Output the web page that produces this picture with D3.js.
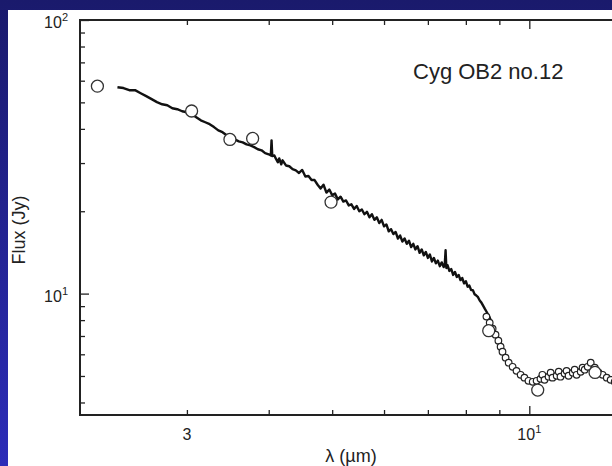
<!DOCTYPE html>
<html>
<head>
<meta charset="utf-8">
<script src="https://cdn.jsdelivr.net/npm/d3@7"></script>
<style>
  html, body { margin: 0; padding: 0; background: #1b1b6e; }
  svg { display: block; }
  text { font-family: "Liberation Sans", Arial, sans-serif; fill: #222; }
</style>
</head>
<body>
<div id="chart"></div>
<script>
// spectrum (solid line), wavelength in um, flux in Jy
const specWave = [
  2.35, 2.40, 2.45, 2.50, 2.55, 2.60, 2.65, 2.70, 2.75, 2.80,
  2.85, 2.90, 2.95, 3.00, 3.05, 3.10, 3.15, 3.20, 3.25, 3.30,
  3.35, 3.40, 3.45, 3.50, 3.55, 3.60, 3.65, 3.70, 3.75, 3.80,
  3.85, 3.90, 3.95, 4.00, 4.03, 4.04, 4.05, 4.08, 4.10, 4.13,
  4.15, 4.18, 4.20, 4.25, 4.30, 4.35, 4.40, 4.45, 4.50, 4.55,
  4.60, 4.65, 4.70, 4.75, 4.80, 4.85, 4.90, 4.95, 5.00, 5.05,
  5.10, 5.15, 5.20, 5.25, 5.30, 5.35, 5.40, 5.45, 5.50, 5.55,
  5.60, 5.65, 5.70, 5.75, 5.80, 5.85, 5.90, 5.95, 6.00, 6.05,
  6.10, 6.15, 6.20, 6.25, 6.30, 6.35, 6.40, 6.45, 6.50, 6.55,
  6.60, 6.65, 6.70, 6.75, 6.80, 6.85, 6.90, 6.95, 7.00, 7.05,
  7.10, 7.15, 7.20, 7.25, 7.30, 7.35, 7.40, 7.43, 7.45, 7.47,
  7.50, 7.55, 7.60, 7.65, 7.70, 7.75, 7.80, 7.85, 7.90, 7.95,
  8.00, 8.05, 8.10, 8.15, 8.20, 8.25, 8.30, 8.35, 8.40, 8.45,
  8.50, 8.55, 8.60, 8.65, 8.70, 8.75
];
const specFlux = [
  56.8, 56.4, 55.4, 55.4, 54.0, 52.7, 51.4, 50.1, 49.2, 48.8,
  47.6, 47.2, 46.4, 46.0, 45.3, 44.1, 43.0, 42.3, 41.6, 40.6,
  39.5, 38.9, 37.9, 37.0, 36.6, 36.0, 35.7, 35.1, 34.8, 34.3,
  33.7, 33.4, 32.6, 32.3, 32.0, 36.3, 31.8, 32.0, 31.2, 30.2,
  31.2, 29.7, 30.7, 29.4, 29.2, 28.5, 28.2, 27.6, 28.3, 26.8,
  26.9, 26.0, 26.0, 25.0, 24.2, 25.0, 23.4, 24.0, 22.9, 23.2,
  22.1, 22.6, 21.7, 21.9, 21.0, 21.2, 20.4, 20.9, 20.0, 20.3,
  19.5, 19.9, 19.0, 19.5, 18.6, 19.0, 18.1, 18.6, 17.6, 17.9,
  16.9, 17.2, 16.5, 16.8, 15.9, 16.3, 15.5, 15.9, 15.2, 15.6,
  14.8, 15.2, 14.5, 14.9, 14.1, 14.5, 13.8, 14.2, 13.5, 13.9,
  13.1, 13.5, 12.9, 13.2, 12.6, 13.0, 12.5, 12.9, 14.4, 12.4,
  12.7, 12.1, 12.3, 11.7, 12.0, 11.5, 11.7, 11.2, 11.4, 10.9,
  11.1, 10.6, 10.7, 10.3, 10.3, 9.95, 9.84, 9.70, 9.43, 9.27,
  9.04, 8.81, 8.6, 8.38, 8.17, 7.9
];

// small open circles (long-wavelength spectrum)
const isoWave = [
  8.60, 8.70, 8.79, 8.88, 8.97, 9.04, 9.10, 9.20, 9.30, 9.43,
  9.56, 9.70, 9.83, 9.97, 10.12, 10.26, 10.40, 10.47, 10.55, 10.70,
  10.78, 10.85, 11.01, 11.09, 11.16, 11.32, 11.40, 11.48, 11.65, 11.73,
  11.81, 11.98, 12.06, 12.15, 12.28, 12.41, 12.59, 12.76, 12.94, 13.13,
  13.31, 13.50
];
const isoFlux = [
  8.24, 7.83, 7.44, 7.08, 6.73, 6.40, 6.13, 5.83, 5.59, 5.40,
  5.22, 5.05, 4.93, 4.80, 4.76, 4.80, 4.88, 5.05, 4.84, 4.97,
  5.14, 4.93, 5.01, 5.18, 4.97, 5.10, 5.22, 5.01, 5.14, 5.27,
  5.05, 5.18, 5.36, 5.27, 5.40, 5.59, 5.36, 5.14, 5.05, 4.93,
  4.84, 4.76
];

// photometry (large open circles)
const photWave = [2.19, 3.05, 3.49, 3.78, 4.98, 8.67, 10.3, 12.6];
const photFlux = [57.3, 46.5, 36.6, 36.9, 21.6, 7.32, 4.44, 5.15];

// axis ticks
const xMinorTicks = [3, 4, 5, 6, 7, 8, 9];
const xMajorTicks = [10];
const yMinorTicks = [4, 5, 6, 7, 8, 9, 20, 30, 40, 50, 60, 70, 80, 90];
const yMajorTicks = [10, 100];
const xTickLabels = [{ v: 3, base: "3", exp: "" }, { v: 10, base: "10", exp: "1" }];
const yTickLabels = [{ v: 10, base: "10", exp: "1" }, { v: 100, base: "10", exp: "2" }];

function renderChart() {
    const width = 612;
    const height = 466;
    const plot = { left: 80, top: 20, right: 625, bottom: 415 };

    const svg = d3.select("#chart").append("svg")
        .attr("width", width)
        .attr("height", height);

    // blue slide background
    const grad = svg.append("defs").append("linearGradient")
        .attr("id", "bg").attr("x1", 0).attr("y1", 0).attr("x2", 0).attr("y2", 1);
    grad.append("stop").attr("offset", "0%").attr("stop-color", "#1a1a6c");
    grad.append("stop").attr("offset", "100%").attr("stop-color", "#2c2cb8");
    svg.append("rect").attr("width", width).attr("height", height).attr("fill", "url(#bg)");
    svg.append("rect").attr("x", 8).attr("y", 10)
        .attr("width", width - 8).attr("height", height - 10).attr("fill", "#fff");

    const x = d3.scaleLog().domain([2.06, 14]).range([plot.left, plot.right]);
    const y = d3.scaleLog().domain([3.6, 100]).range([plot.bottom, plot.top]);

    // inward ticks on all sides
    const tickGroups = [
        { axis: d3.axisBottom(x), ticks: xMinorTicks, size: -5, at: `translate(0,${plot.bottom})` },
        { axis: d3.axisBottom(x), ticks: xMajorTicks, size: -9, at: `translate(0,${plot.bottom})` },
        { axis: d3.axisTop(x), ticks: xMinorTicks, size: -5, at: `translate(0,${plot.top})` },
        { axis: d3.axisTop(x), ticks: xMajorTicks, size: -9, at: `translate(0,${plot.top})` },
        { axis: d3.axisLeft(y), ticks: yMinorTicks, size: -5, at: `translate(${plot.left},0)` },
        { axis: d3.axisLeft(y), ticks: yMajorTicks, size: -9, at: `translate(${plot.left},0)` }
    ];
    tickGroups.forEach(t => {
        const g = svg.append("g")
            .attr("transform", t.at)
            .call(t.axis.tickValues(t.ticks).tickSize(t.size).tickFormat(""));
        g.select(".domain").remove();
        g.selectAll("line").attr("stroke", "#222").attr("stroke-width", 1.3);
    });

    // frame
    svg.append("rect")
        .attr("x", plot.left).attr("y", plot.top)
        .attr("width", plot.right - plot.left).attr("height", plot.bottom - plot.top)
        .attr("fill", "none").attr("stroke", "#222").attr("stroke-width", 2);

    // tick labels
    xTickLabels.forEach(d => {
        const t = svg.append("text")
            .attr("x", x(d.v)).attr("y", plot.bottom + 25)
            .attr("text-anchor", "middle").attr("font-size", 16)
            .text(d.base);
        if (d.exp) t.append("tspan").attr("dy", -7).attr("font-size", 11).text(d.exp);
    });
    yTickLabels.forEach(d => {
        const t = svg.append("text")
            .attr("x", 68).attr("y", y(d.v) + 8)
            .attr("text-anchor", "end").attr("font-size", 16)
            .text(d.base);
        if (d.exp) t.append("tspan").attr("dy", -7).attr("font-size", 11).text(d.exp);
    });

    // axis titles
    svg.append("text")
        .attr("x", 351).attr("y", 462)
        .attr("text-anchor", "middle").attr("font-size", 18)
        .text("λ (µm)");
    svg.append("text")
        .attr("transform", "translate(25,230) rotate(-90)")
        .attr("text-anchor", "middle").attr("font-size", 18)
        .text("Flux (Jy)");

    // object name
    svg.append("text")
        .attr("x", 413).attr("y", 79)
        .attr("font-size", 22)
        .text("Cyg OB2 no.12");

    // spectrum line
    const spec = specWave.map((w, i) => [w, specFlux[i]]);
    svg.append("path")
        .datum(spec)
        .attr("d", d3.line().x(d => x(d[0])).y(d => y(d[1])))
        .attr("fill", "none")
        .attr("stroke", "#111")
        .attr("stroke-width", 2.4)
        .attr("stroke-linejoin", "round");

    // small circles
    svg.append("g")
        .selectAll("circle")
        .data(isoWave.map((w, i) => [w, isoFlux[i]]))
        .enter()
        .append("circle")
        .attr("cx", d => x(d[0]))
        .attr("cy", d => y(d[1]))
        .attr("r", 3.3)
        .attr("fill", "#fff")
        .attr("stroke", "#222")
        .attr("stroke-width", 1.2);

    // photometry circles
    svg.append("g")
        .selectAll("circle")
        .data(photWave.map((w, i) => [w, photFlux[i]]))
        .enter()
        .append("circle")
        .attr("cx", d => x(d[0]))
        .attr("cy", d => y(d[1]))
        .attr("r", 6)
        .attr("fill", "#fff")
        .attr("stroke", "#333")
        .attr("stroke-width", 1.3);
}

renderChart();
</script>
</body>
</html>
